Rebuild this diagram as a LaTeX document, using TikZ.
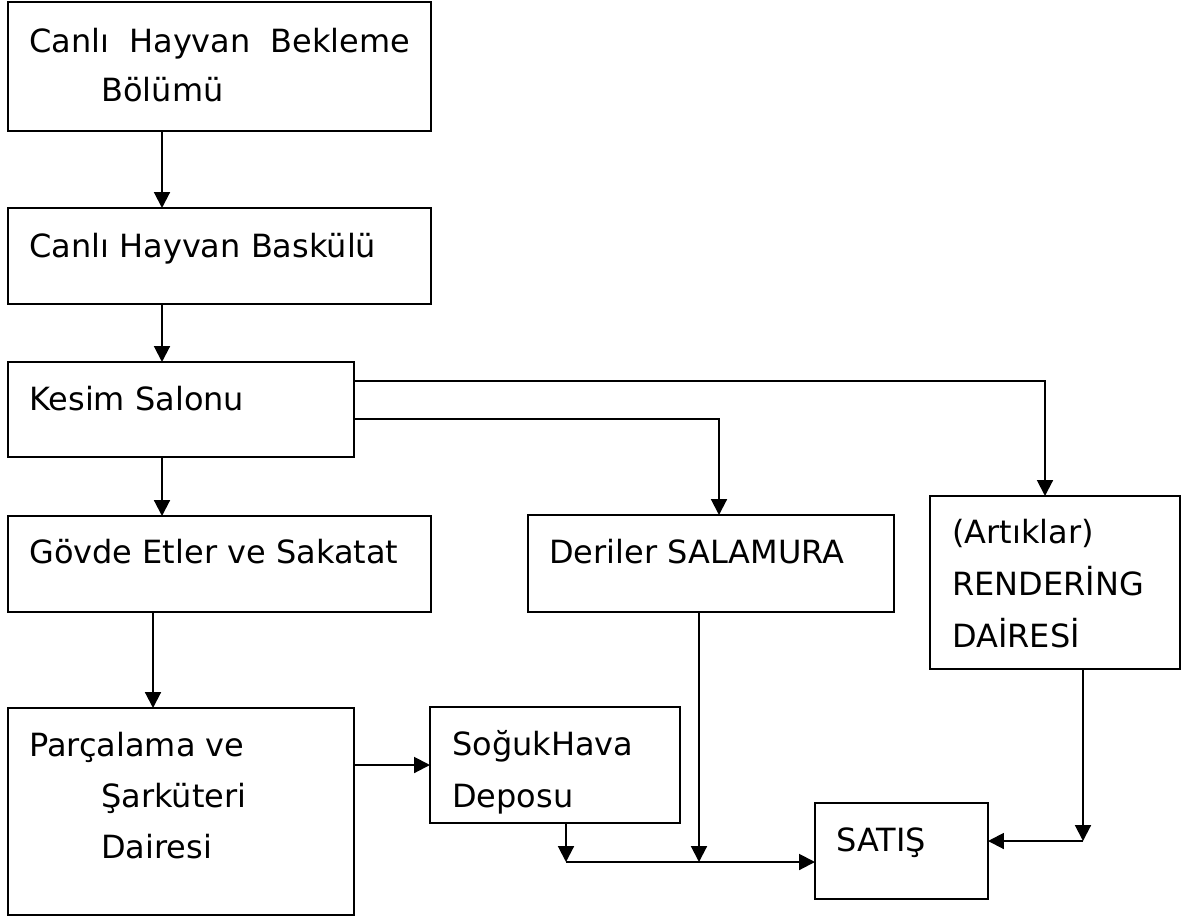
\documentclass[tikz,border=0pt]{standalone}
\usepackage{fontspec}
\setmainfont{DejaVu Sans}
\usetikzlibrary{arrows.meta}
\begin{document}
\begin{tikzpicture}[x=0.02cm,y=-0.02cm,
  box/.style={draw,line width=1.15pt,rectangle,inner sep=0pt,outer sep=0pt},
  lbl/.style={anchor=base west,inner sep=0pt,font=\fontsize{18.2}{22}\selectfont},
  arr/.style={line width=1.15pt,-{Triangle[length=9pt,width=9pt]}}]
\useasboundingbox (0,0) rectangle (1197,920);
% boxes
\node[box,minimum width=423*0.02cm,minimum height=129*0.02cm] (b1) at (219.5,66.5) {};
\node[box,minimum width=423*0.02cm,minimum height=96*0.02cm] (b2) at (219.5,256) {};
\node[box,minimum width=346*0.02cm,minimum height=95*0.02cm] (b3) at (181,409.5) {};
\node[box,minimum width=423*0.02cm,minimum height=96*0.02cm] (b4) at (219.5,564) {};
\node[box,minimum width=366*0.02cm,minimum height=97*0.02cm] (b5) at (711,563.5) {};
\node[box,minimum width=250*0.02cm,minimum height=173*0.02cm] (b6) at (1055,582.5) {};
\node[box,minimum width=346*0.02cm,minimum height=207*0.02cm] (b7) at (181,811.5) {};
\node[box,minimum width=250*0.02cm,minimum height=116*0.02cm] (b8) at (555,765) {};
\node[box,minimum width=173*0.02cm,minimum height=96*0.02cm] (b9) at (901.5,851) {};
% labels
\node[lbl] (t1a) at (29,52) {\makebox[7.62cm][s]{Canlı\hfill Hayvan\hfill Bekleme}};
\node[lbl] (t1b) at (101,101) {Bölümü};
\node[lbl] (t2) at (29,257) {Canlı Hayvan Baskülü};
\node[lbl] (t3) at (29,410) {Kesim Salonu};
\node[lbl] (t4) at (29,563) {Gövde Etler ve Sakatat};
\node[lbl] (t5) at (549,563) {Deriler SALAMURA};
\node[lbl] (t6a) at (952,543) {(Artıklar)};
\node[lbl] (t6b) at (952,595) {RENDERİNG};
\node[lbl] (t6c) at (952,647) {DAİRESİ};
\node[lbl] (t7a) at (29,756) {Parçalama ve};
\node[lbl] (t7b) at (101,807) {Şarküteri};
\node[lbl] (t7c) at (101,858) {Dairesi};
\node[lbl] (t8a) at (452,755) {SoğukHava};
\node[lbl] (t8b) at (452,807) {Deposu};
\node[lbl] (t9) at (836,851) {SATIŞ};
% helper coordinates
\coordinate (colA) at (162,0);
\coordinate (colB) at (153,0);
\coordinate (colD) at (719,0);
\coordinate (colR) at (1045,0);
\coordinate (colS) at (566,0);
\coordinate (colD2) at (699,0);
\coordinate (colR2) at (1083,0);
\coordinate (rowR) at (0,381);
\coordinate (rowD) at (0,419);
\coordinate (rowJ) at (0,862);
\coordinate (rowK) at (0,841);
\coordinate (j1) at (colS |- rowJ);
\coordinate (j2) at (colD2 |- rowJ);
\coordinate (j3) at (colR2 |- rowK);
% connectors
\draw[arr] (b1.south -| colA) -- (b2.north -| colA);
\draw[arr] (b2.south -| colA) -- (b3.north -| colA);
\draw[arr] (b3.south -| colA) -- (b4.north -| colA);
\draw[arr] (b3.east |- rowR) -| (b6.north -| colR);
\draw[arr] (b3.east |- rowD) -| (b5.north -| colD);
\draw[arr] (b4.south -| colB) -- (b7.north -| colB);
\draw[arr] (b7.east |- b8.west) -- (b8.west);
\draw[arr] (b8.south -| colS) -- (j1);
\draw[arr] (b5.south -| colD2) -- (j2);
\draw[arr] (j1) -- (b9.west |- j1);
\draw[arr] (b6.south -| colR2) -- (j3);
\draw[arr] (j3) -- (b9.east |- j3);
\end{tikzpicture}
\end{document}
